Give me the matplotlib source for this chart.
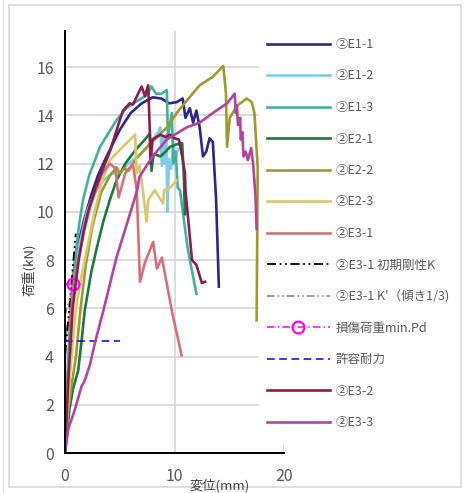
import numpy as np
import matplotlib.pyplot as plt
from matplotlib.patches import Rectangle
from matplotlib.lines import Line2D

plt.rcParams['font.family'] = ['Noto Sans CJK JP', 'DejaVu Sans']

# load-displacement curves (mm, kN)
e11_x = [0, 0.3, 0.75, 1.2, 1.7, 2.4, 3.0, 3.8, 5.0, 6.0, 7.0, 8.0, 8.8, 9.5, 10.2, 10.75,
         11.0, 11.4, 11.7, 12.0, 12.3, 12.6, 12.9, 13.2, 13.5, 13.8, 14.05]
e11_y = [0, 3.5, 7.3, 8.6, 9.6, 10.7, 11.5, 12.3, 13.4, 14.1, 14.5, 14.75, 14.7, 14.5, 14.55, 14.7,
         13.9, 14.3, 13.7, 14.2, 13.5, 12.3, 12.5, 13.05, 12.9, 10.5, 6.9]

e12_x = [0, 0.2, 0.45, 0.8, 1.3, 2.0, 2.7, 3.5, 4.3, 5.0, 5.8, 6.6, 7.4, 8.0, 8.5, 8.7, 8.85, 9.0,
         9.1, 9.25, 9.35, 9.5, 9.7, 9.9, 10.1, 10.3]
e12_y = [0, 2.8, 4.6, 6.8, 8.6, 10.0, 10.8, 11.3, 11.6, 11.6, 12.0, 12.3, 12.6, 13.0, 13.3, 13.5, 11.9, 13.1,
         12.0, 13.2, 10.0, 12.2, 11.8, 12.8, 12.2, 12.6]

e13_x = [0, 0.2, 0.5, 0.9, 1.3, 1.65, 2.2, 3.2, 4.7, 5.6, 6.6, 7.5, 7.9, 8.3, 8.8, 9.3, 9.4, 9.75,
         9.9, 10.1, 10.3, 10.5, 11.2, 12.0]
e13_y = [0, 2.8, 6.0, 8.0, 9.5, 10.5, 11.5, 12.7, 13.8, 14.3, 14.6, 14.85, 15.2, 14.9, 14.9, 15.05, 13.1, 14.1,
         12.0, 12.5, 11.0, 10.9, 8.5, 6.6]

e21_x = [0, 0.4, 0.75, 1.2, 1.5, 1.8, 2.4, 2.9, 3.5, 4.1, 4.7, 5.5, 6.5, 7.3, 7.75, 7.9, 8.1, 8.7, 9.2,
         9.6, 10.2, 10.7, 10.85, 10.95]
e21_y = [0, 1.8, 2.7, 3.4, 4.6, 5.9, 7.5, 8.5, 9.6, 10.5, 11.3, 12.0, 12.6, 13.0, 13.25, 11.7, 12.4, 12.3, 12.5,
         12.7, 12.8, 12.85, 11.5, 9.9]

e22_x = [0, 0.2, 0.6, 1.0, 1.4, 1.9, 2.5, 3.3, 4.1, 4.7, 5.0, 5.4, 5.8, 6.5, 7.5, 8.4, 9.3, 10.2,
         11.1, 12.3, 13.5, 14.45, 14.6, 14.7, 14.8, 15.05, 15.7, 16.6, 17.05, 17.3, 17.6, 17.5]
e22_y = [0, 1.5, 2.8, 4.0, 5.9, 7.8, 9.4, 10.8, 11.5, 11.85, 11.6, 11.8, 11.7, 12.2, 12.7, 13.1, 13.5, 14.1,
         14.6, 15.25, 15.6, 16.05, 15.4, 14.9, 12.7, 13.9, 14.4, 14.7, 14.55, 14.1, 11.8, 5.5]

e23_x = [0, 0.2, 0.5, 1.0, 1.4, 1.8, 2.7, 3.4, 4.1, 5.3, 6.4, 6.55, 6.8, 7.0, 7.45, 7.6, 8.2, 8.95,
         9.05, 9.6, 10.2]
e23_y = [0, 1.5, 3.5, 6.0, 7.1, 8.0, 10.0, 11.3, 12.15, 12.7, 13.2, 11.6, 11.9, 11.3, 9.6, 10.5, 10.9, 10.35,
         10.9, 11.0, 11.3]

e31_x = [0, 0, 0.1, 0.45, 0.75, 1.3, 1.8, 2.3, 2.9, 3.4, 4.1, 4.6, 4.9, 5.5, 6.2, 6.55, 6.85, 7.3,
         8.05, 8.4, 8.85, 9.8, 10.65]
e31_y = [0, 4.5, 5.0, 5.6, 7.0, 8.2, 9.3, 10.2, 11.0, 11.6, 12.0, 11.8, 10.6, 11.6, 12.0, 10.9, 7.1, 7.9,
         8.75, 7.65, 8.1, 5.8, 4.05]

e32_x = [0, 0.3, 0.7, 1.25, 1.7, 2.1, 2.8, 3.4, 4.1, 5.0, 5.3, 5.9, 6.2, 7.0, 7.3, 7.6, 7.75, 7.8, 8.0,
         8.7, 9.2, 9.6, 10.0, 10.4, 10.7, 10.95, 11.0, 11.6, 12.0, 12.5, 12.8]
e32_y = [0, 3.0, 6.0, 8.0, 9.2, 10.0, 11.0, 11.7, 12.5, 13.8, 14.2, 14.5, 14.45, 15.2, 14.8, 15.25, 13.3, 12.0, 13.0,
         13.2, 13.1, 13.2, 13.05, 13.0, 12.3, 11.6, 10.9, 8.0, 7.8, 7.05, 7.1]

e33_x = [0, 0.3, 0.9, 1.5, 1.8, 2.3, 2.75, 3.5, 4.7, 6.6, 6.8, 8.0, 9.3, 11.1, 12.3, 13.5, 14.8, 15.5,
         15.6, 15.7, 15.8, 16.0, 16.05, 16.2, 16.3, 16.5, 16.7, 17.0, 17.2, 17.4, 17.5]
e33_y = [0, 1.0, 1.8, 2.75, 3.0, 3.7, 4.6, 5.9, 8.1, 10.9, 11.45, 12.3, 13.0, 13.5, 13.7, 14.1, 14.5, 14.9,
         14.1, 14.4, 13.6, 13.9, 13.0, 13.3, 12.3, 12.5, 12.15, 12.65, 11.9, 10.6, 9.3]

# reference lines for E3-1
k_x = [0.02, 0.98]
k_y = [4.1, 9.1]
k3_x = [0.0, 0.78]
k3_y = [5.7, 7.0]
pd_x = [0.0, 0.75, 1.5]
pd_y = [7.0, 7.0, 7.0]
pa_x = [0.0, 5.0]
pa_y = [4.65, 4.65]

fig = plt.figure(figsize=(4.66, 4.93), dpi=100)
ax = fig.add_axes([65 / 466, 40 / 493, 219 / 466, 422 / 493])

lw = 1.9
ax.plot(e11_x, e11_y, color='#2E2787', lw=lw, label='②E1-1')
ax.plot(e12_x, e12_y, color='#80CCEB', lw=lw, label='②E1-2')
ax.plot(e13_x, e13_y, color='#45B09A', lw=lw, label='②E1-3')
ax.plot(e21_x, e21_y, color='#1B7A3E', lw=lw, label='②E2-1')
ax.plot(e22_x, e22_y, color='#9E9A2E', lw=lw, label='②E2-2')
ax.plot(e23_x, e23_y, color='#DCC86A', lw=lw, label='②E2-3')
ax.plot(e31_x, e31_y, color='#D6707A', lw=lw, label='②E3-1')
ax.plot(k_x, k_y, color='black', lw=1.3, dashes=[5, 2, 1, 2, 1, 2], label='②E3-1 初期剛性K')
ax.plot(k3_x, k3_y, color='#808080', lw=1.1, dashes=[5, 2, 1, 2, 1, 2], label="②E3-1 K'（傾き1/3)")
ax.plot(pd_x, pd_y, color='#FF00FF', lw=1.1, dashes=[5, 2, 1, 2], marker='o', markevery=[1],
        markersize=8.5, markerfacecolor='none', markeredgewidth=1.6, label='損傷荷重min.Pd')
ax.plot(pa_x, pa_y, color='#0000FF', lw=1.1, dashes=[5, 3], label='許容耐力')
ax.plot(e32_x, e32_y, color='#8A1E4E', lw=lw, label='②E3-2')
ax.plot(e33_x, e33_y, color='#B146A0', lw=lw, label='②E3-3')

ax.set_xlim(0, 20)
ax.set_ylim(0, 17.5)
ax.set_xticks([0, 10, 20])
ax.set_yticks(np.arange(0, 17, 2))
ax.grid(True, color='#D9D9D9', lw=1.3)
ax.set_axisbelow(True)
for s in ['top', 'right']:
    ax.spines[s].set_visible(False)
ax.spines['left'].set_color('black')
ax.spines['left'].set_linewidth(1.4)
ax.spines['bottom'].set_color('black')
ax.spines['bottom'].set_linewidth(1.4)
ax.tick_params(length=0, labelsize=11.5, labelcolor='#595959')
ax.tick_params(axis='y', pad=8)
ax.tick_params(axis='x', pad=11)

fig.text(30 / 466, 1 - 270 / 493, '荷重(kN)', rotation=90, ha='center', va='center',
         fontsize=9.5, color='#404040')
fig.text(220 / 466, 1 - 486 / 493, '変位(mm)', ha='center', va='center',
         fontsize=9.5, color='#404040')

# legend sits on a white panel over the right part of the plot
fig.patches.append(Rectangle((259 / 466, 1 - 445 / 493), 201 / 466, 420 / 493,
                             transform=fig.transFigure, facecolor='white', edgecolor='none', zorder=2))
handles, labels = ax.get_legend_handles_labels()
leg = fig.legend(handles, labels, loc='upper left', bbox_to_anchor=(262 / 466, 1 - 33 / 493),
                 frameon=False, fontsize=9, handlelength=5.0, handletextpad=0.5,
                 labelspacing=1.48, labelcolor='#595959', borderaxespad=0)
leg.set_zorder(3)

# chart border
fig.patches.append(Rectangle((9 / 466, 6 / 493), 452 / 466, 482 / 493, transform=fig.transFigure,
                             facecolor='none', edgecolor='#D9D9D9', lw=1.2))
fig.lines.append(Line2D([3 / 466, 3 / 466], [0, 1], transform=fig.transFigure, color='#E0E0E0', lw=1))

fig.savefig('out.png', dpi=100)
